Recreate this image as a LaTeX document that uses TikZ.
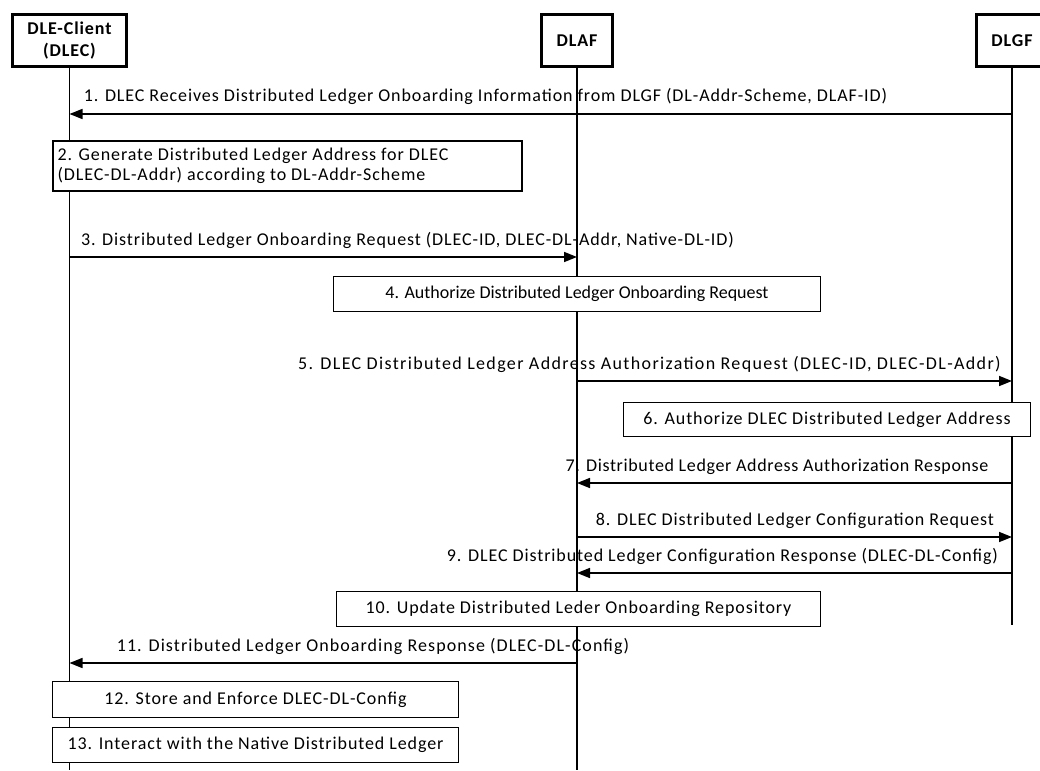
\documentclass[tikz,border=0pt]{standalone}
\usepackage{fontspec}
\setmainfont{Carlito}[LetterSpace=5]
\usetikzlibrary{arrows.meta}
\begin{document}
\begin{tikzpicture}[x=1pt,y=-1pt,
  font=\fontsize{18}{20}\selectfont,
  actor/.style={draw, line width=3pt, minimum height=52pt, align=center,
    font=\fontsize{18}{22}\selectfont\bfseries, inner sep=0pt},
  life/.style={line width=1.6pt},
  msg/.style={line width=1.6pt, -{Triangle[length=13pt,width=10pt]}},
  task/.style={draw, fill=white, line width=1.3pt, inner sep=0pt, align=center},
  lbl/.style={anchor=base, inner sep=0pt},
  track/.style={font=\fontsize{18}{20}\selectfont\addfontfeatures{LetterSpace=#1}}]

% canvas
\useasboundingbox (0,0) rectangle (1040,770);
\fill[white] (0,0) rectangle (1040,770);

% participants
\node[actor, minimum width=114pt] (dlec) at (69.5,40.5) {DLE-Client\\(DLEC)};
\node[actor, minimum width=71pt] (dlaf) at (577,40.5) {DLAF};
\node[actor, minimum width=71pt] (dlgf) at (1012,40.5) {DLGF};

% lifelines
\coordinate (bot) at (0,770);
\coordinate (gfend) at (0,625);
\draw[life] (dlec.south) -- (dlec |- bot);
\draw[life] (dlaf.south) -- (dlaf |- bot);
\draw[life] (dlgf.south) -- (dlgf |- gfend);

% message rows
\coordinate (y1) at (0,114);
\coordinate (y3) at (0,257);
\coordinate (y5) at (0,381);
\coordinate (y7) at (0,483);
\coordinate (y8) at (0,537);
\coordinate (y9) at (0,573);
\coordinate (y11) at (0,663);

% 1
\draw[msg] (dlgf |- y1) -- (dlec |- y1);
\node[lbl] (l1) at (485.5,102) {1. DLEC Receives Distributed Ledger Onboarding Information from DLGF (DL-Addr-Scheme, DLAF-ID)};

% 2
\node[task, minimum width=469pt, minimum height=50pt, text width=460pt, align=flush left] (t2) at (287.5,166)
  {2. Generate Distributed Ledger Address for DLEC\\(DLEC-DL-Addr) according to DL-Addr-Scheme};

% 3
\draw[msg] (dlec |- y3) -- (dlaf |- y3);
\node[lbl] (l3) at (407.5,245) {3. Distributed Ledger Onboarding Request (DLEC-ID, DLEC-DL-Addr, Native-DL-ID)};

% 4
\node[task, track=0, minimum width=487pt, minimum height=35pt] (t4) at (577,294) {4. Authorize Distributed Ledger Onboarding Request};

% 5
\draw[msg] (dlaf |- y5) -- (dlgf |- y5);
\node[lbl, track=7.5] (l5) at (649.5,369) {5. DLEC Distributed Ledger Address Authorization Request (DLEC-ID, DLEC-DL-Addr)};

% 6
\node[task, minimum width=407pt, minimum height=34pt] (t6) at (827,419.5) {6. Authorize DLEC Distributed Ledger Address};

% 7
\draw[msg] (dlgf |- y7) -- (dlaf |- y7);
\node[lbl, track=3.5] (l7) at (777,471) {7. Distributed Ledger Address Authorization Response};

% 8
\draw[msg] (dlaf |- y8) -- (dlgf |- y8);
\node[lbl] (l8) at (795,525) {8. DLEC Distributed Ledger Configuration Request};

% 9
\draw[msg] (dlgf |- y9) -- (dlaf |- y9);
\node[lbl] (l9) at (722.5,561) {9. DLEC Distributed Ledger Configuration Response (DLEC-DL-Config)};

% 10
\node[task, minimum width=484pt, minimum height=35pt] (t10) at (578.5,609) {10. Update Distributed Leder Onboarding Repository};

% 11
\draw[msg] (dlaf |- y11) -- (dlec |- y11);
\node[lbl, track=6] (l11) at (373,651) {11. Distributed Ledger Onboarding Response (DLEC-DL-Config)};

% 12, 13
\node[task, minimum width=406pt, minimum height=36pt] (t12) at (255.5,699.5) {12. Store and Enforce DLEC-DL-Config};
\node[task, minimum width=406pt, minimum height=35pt] (t13) at (255.5,745) {13. Interact with the Native Distributed Ledger};

\end{tikzpicture}
\end{document}
